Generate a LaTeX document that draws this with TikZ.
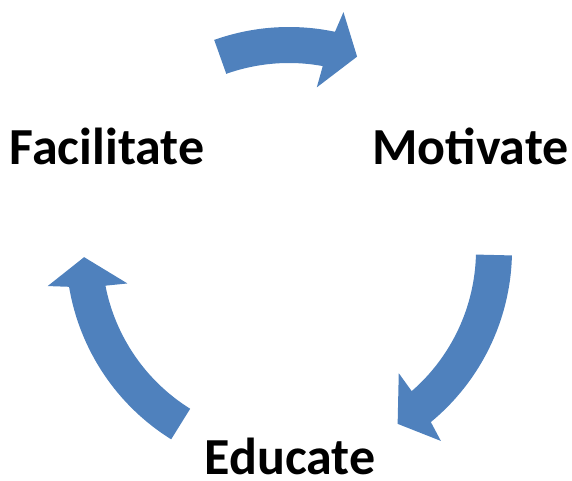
\documentclass[tikz,border=0pt]{standalone}
\usepackage{fontspec}
\setmainfont{Carlito}
\definecolor{accentblue}{HTML}{4F81BD}
\tikzset{
  cyclabel/.style={anchor=base, inner sep=0pt, font=\fontsize{52}{60}\selectfont\bfseries, text=black},
  arrowfill/.style={fill=accentblue, draw=none}
}
\newcommand{\cycarrow}[2]{%
  \fill[arrowfill] (#1:223pt) arc[start angle=#1, end angle={#2+7.5}, radius=223pt]
    -- ({#2+6.5}:244pt) -- (#2:205pt) -- ({#2+9.7}:165pt) -- ({#2+9}:187pt)
    arc[start angle={#2+9}, end angle=#1, radius=187pt] -- cycle;}
\begin{document}
\begin{tikzpicture}[x=1pt,y=1pt]
\useasboundingbox (0,0) rectangle (572,481);
\begin{scope}[shift={(289pt,231pt)}]
  \cycarrow{109.6}{70.6}
  \cycarrow{-1.4}{-58}
  \cycarrow{238.1}{182}
\end{scope}
\node[cyclabel] (fac) at (107,316) {Facilitate};
\node[cyclabel] (mot) at (470.5,316) {Motivate};
\node[cyclabel] (edu) at (290,6) {Educate};
\end{tikzpicture}
\end{document}
